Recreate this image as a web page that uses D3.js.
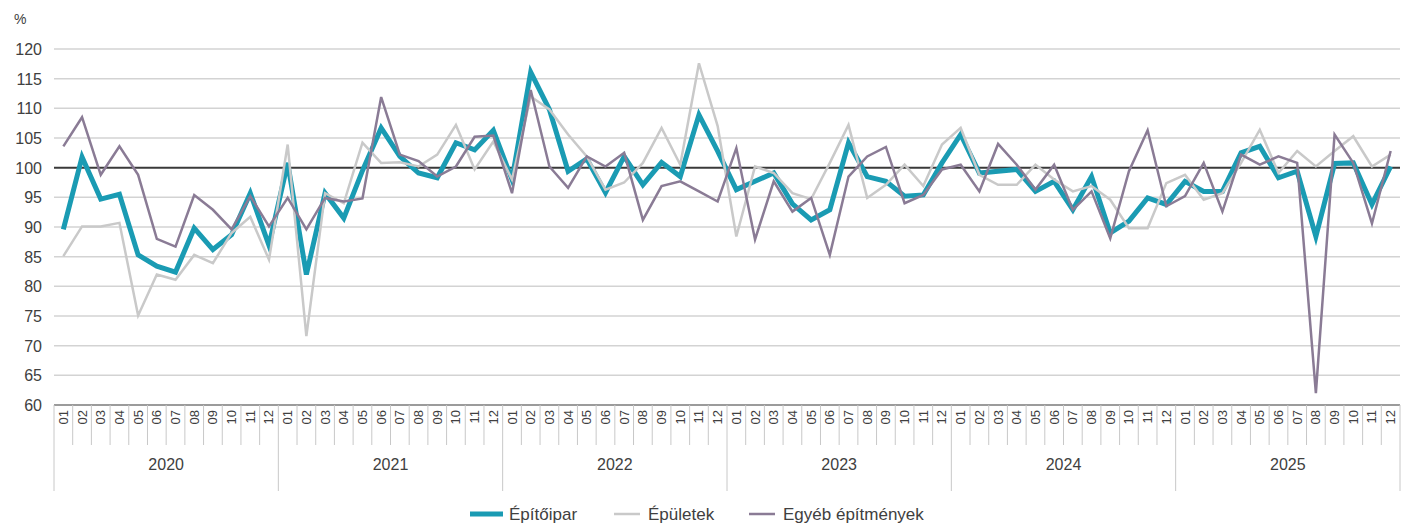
<!DOCTYPE html>
<html>
<head>
<meta charset="utf-8">
<script src="https://cdn.jsdelivr.net/npm/d3@7"></script>
<style>
  body { margin: 0; background: #fff; }
  svg { display: block; font-family: "Liberation Sans", Arial, sans-serif; }
</style>
</head>
<body>
<div id="chart"></div>
<script>
// data: monthly volume index, same month of previous year = 100
const years = ["2020", "2021", "2022", "2023", "2024", "2025"];
const months = ["01","02","03","04","05","06","07","08","09","10","11","12"];
const yTicks = [60, 65, 70, 75, 80, 85, 90, 95, 100, 105, 110, 115, 120];

const epitoipar = [
  89.6, 101.8, 94.7, 95.5, 85.3, 83.4, 82.4, 89.8, 86.2, 88.7, 95.7, 86.9,
  100.8, 82.0, 95.7, 91.5, 99.5, 106.7, 101.9, 99.1, 98.3, 104.2, 103.0, 106.3,
  98.0, 116.1, 109.8, 99.4, 101.5, 95.8, 101.9, 97.1, 100.9, 98.5, 108.9, 102.8,
  96.3, 97.7, 99.1, 93.9, 91.2, 92.9, 104.2, 98.5, 97.7, 95.2, 95.4, 100.8,
  105.6, 99.1, 99.4, 99.7, 96.0, 97.7, 92.9, 98.5, 89.0, 91.0, 94.9, 93.8,
  97.7, 96.0, 96.0, 102.5, 103.6, 98.3, 99.4, 88.4, 100.7, 100.8, 93.8, 100.2
];
const epuletek = [
  85.1, 90.1, 90.1, 90.7, 75.1, 82.0, 81.1, 85.3, 83.9, 89.0, 91.7, 84.5,
  103.9, 71.6, 95.7, 94.0, 104.2, 100.8, 100.9, 100.2, 102.2, 107.2, 99.7, 104.4,
  98.0, 112.0, 109.8, 105.6, 101.9, 96.3, 97.5, 100.8, 106.7, 100.5, 117.6, 107.0,
  88.4, 100.2, 99.1, 95.7, 94.7, 100.8, 107.2, 94.9, 97.1, 100.5, 96.9, 103.9,
  106.7, 98.8, 97.1, 97.1, 100.5, 98.0, 96.0, 96.9, 94.6, 89.8, 89.8, 97.4,
  98.8, 94.6, 95.7, 100.8, 106.4, 99.1, 102.8, 100.2, 102.8, 105.3, 100.2, 102.2
];
const egyeb = [
  103.6, 108.5, 98.8, 103.6, 98.8, 88.0, 86.7, 95.4, 92.9, 89.6, 95.2, 90.1,
  94.9, 89.6, 94.9, 94.3, 94.8, 111.9, 102.2, 101.1, 98.5, 100.2, 105.2, 105.4,
  95.7, 113.1, 100.2, 96.6, 101.9, 100.2, 102.5, 91.2, 96.9, 97.7, 96.0, 94.3,
  103.3, 87.9, 97.7, 92.6, 94.9, 85.3, 98.5, 101.9, 103.5, 94.0, 95.4, 99.7,
  100.5, 96.0, 104.0, 100.5, 96.3, 100.5, 92.9, 96.0, 88.1, 99.4, 106.3, 93.5,
  95.2, 100.8, 92.6, 102.2, 100.5, 101.9, 100.8, 62.0, 105.6, 100.8, 90.6, 102.8
];

const seriesNames = ["Építőipar", "Épületek", "Egyéb építmények"];
const seriesColors = ["#1a9bb3", "#c9c9c9", "#8a7b95"];
const seriesWidths = [5, 2.5, 2.5];

// build period keys
const periods = [];
years.forEach(y => months.forEach(m => periods.push(y + "-" + m)));

const series = [
  {name: seriesNames[0], values: epitoipar, color: seriesColors[0], w: seriesWidths[0]},
  {name: seriesNames[1], values: epuletek, color: seriesColors[1], w: seriesWidths[1]},
  {name: seriesNames[2], values: egyeb, color: seriesColors[2], w: seriesWidths[2]}
];

const W = 1402, H = 527;
const margin = {top: 49, right: 2, bottom: 120, left: 54};
const width = W - margin.left - margin.right;
const height = 405 - margin.top;

const svg = d3.select("#chart").append("svg")
  .attr("width", W).attr("height", H);

const g = svg.append("g")
  .attr("transform", "translate(" + margin.left + "," + margin.top + ")");

const x = d3.scaleBand().domain(periods).range([0, width]);
const y = d3.scaleLinear().domain([60, 120]).range([height, 0]);

// gridlines
g.selectAll(".grid")
  .data(yTicks.filter(d => d !== 60 && d !== 100))
  .enter().append("line")
  .attr("x1", 0).attr("x2", width)
  .attr("y1", d => y(d)).attr("y2", d => y(d))
  .attr("stroke", "#d3d3d3").attr("stroke-width", 1.5);

// y labels
svg.selectAll(".ylab")
  .data(yTicks)
  .enter().append("text")
  .attr("x", 42)
  .attr("y", d => margin.top + y(d) + 6)
  .attr("text-anchor", "end")
  .attr("font-size", "16px")
  .attr("fill", "#404040")
  .text(d => d);

svg.append("text")
  .attr("x", 14).attr("y", 24)
  .attr("font-size", "14px").attr("fill", "#404040")
  .text("%");

// reference line at 100
g.append("line")
  .attr("x1", 0).attr("x2", width)
  .attr("y1", y(100)).attr("y2", y(100))
  .attr("stroke", "#3a3a3a").attr("stroke-width", 2);

// x axis baseline
g.append("line")
  .attr("x1", 0).attr("x2", width)
  .attr("y1", height).attr("y2", height)
  .attr("stroke", "#7a7a7a").attr("stroke-width", 1.5);

// month separators
g.selectAll(".mtick")
  .data(periods)
  .enter().append("line")
  .attr("x1", d => x(d)).attr("x2", d => x(d))
  .attr("y1", height)
  .attr("y2", (d, i) => i % 12 === 0 ? height + 86 : height + 40)
  .attr("stroke", "#c8c8c8").attr("stroke-width", 1);

g.append("line")
  .attr("x1", width).attr("x2", width)
  .attr("y1", height).attr("y2", height + 86)
  .attr("stroke", "#c8c8c8").attr("stroke-width", 1);

// month labels
g.selectAll(".mlab")
  .data(periods)
  .enter().append("text")
  .attr("transform", d => "translate(" + (x(d) + x.bandwidth() / 2 + 4.5) + "," + (height + 5) + ") rotate(-90)")
  .attr("text-anchor", "end")
  .attr("font-size", "13px")
  .attr("fill", "#404040")
  .text(d => d.slice(5));

// year labels
g.selectAll(".ylabel")
  .data(years)
  .enter().append("text")
  .attr("x", d => x(d + "-01") + x.bandwidth() * 6)
  .attr("y", height + 65)
  .attr("text-anchor", "middle")
  .attr("font-size", "16px")
  .attr("fill", "#404040")
  .text(d => d);

// lines
const line = d3.line()
  .x((d, i) => x(periods[i]) + x.bandwidth() / 2)
  .y(d => y(d));

g.selectAll(".series")
  .data(series)
  .enter().append("path")
  .attr("fill", "none")
  .attr("stroke", d => d.color)
  .attr("stroke-width", d => d.w)
  .attr("stroke-linejoin", "miter")
  .attr("d", d => line(d.values));

// legend
const legendX = [470, 614, 749];
const legend = svg.selectAll(".legend")
  .data(series)
  .enter().append("g")
  .attr("transform", (d, i) => "translate(" + legendX[i] + ",514)");

legend.append("line")
  .attr("x1", 0).attr("x2", (d, i) => i === 0 ? 33 : 26)
  .attr("y1", 0).attr("y2", 0)
  .attr("stroke", d => d.color)
  .attr("stroke-width", d => d.w);

legend.append("text")
  .attr("x", (d, i) => i === 0 ? 39 : 34)
  .attr("y", 6)
  .attr("font-size", "17px")
  .attr("fill", "#404040")
  .text(d => d.name);
</script>
</body>
</html>
